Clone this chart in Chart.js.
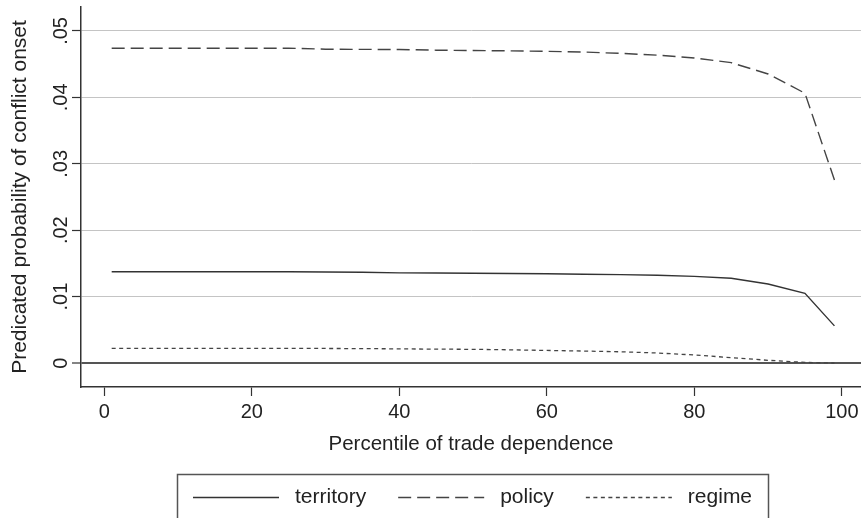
<!DOCTYPE html>
<html>
<head>
<meta charset="utf-8">
<script src="https://cdn.jsdelivr.net/npm/chart.js@4.4.1/dist/chart.umd.min.js"></script>
<style>
  body { margin: 0; background: #fff; }
  canvas { display: block; }
</style>
</head>
<body>
<canvas id="myChart" width="861" height="518"></canvas>
<script>
const percentiles = [1, 5, 10, 15, 20, 25, 30, 35, 40, 45, 50, 55, 60, 65, 70, 75, 80, 85, 90, 95, 99]
const territory = [.01375, .01375, .01375, .01375, .01375, .01375, .01372, .01368, .01358, .01355, .01352,
                   .01348, .01344, .01338, .01332, .01322, .01305, .01276, .0119, .0105, .0056]
const policy = [.0474, .0474, .0474, .0474, .0474, .0474, .04725, .04722, .0472, .0471, .04705,
                .047, .04692, .04682, .04662, .04635, .04592, .04522, .04352, .04062, .02756]
const regime = [.0022, .0022, .0022, .0022, .0022, .0022, .0022, .00218, .00214, .0021, .00207,
                .002, .0019, .00181, .0017, .00152, .00122, .00082, .00042, .0001, 0]

const seriesNames = ['territory', 'policy', 'regime']
const yTickValues = [0, .01, .02, .03, .04, .05]
const yTickLabels = ['0', '.01', '.02', '.03', '.04', '.05']
const xTickValues = [0, 20, 40, 60, 80, 100]

const fontFamily = "'Liberation Sans', Arial, Helvetica, sans-serif"
const textColor = '#222'
const axisColor = '#333'

function toPoints(values) {
  var pts = []
  for (var i = 0; i < percentiles.length; i++) {
    pts.push({ x: percentiles[i], y: values[i] })
  }
  return pts
}

// y tick labels are rotated in the original, Chart.js won't rotate them on a vertical axis
const rotatedYLabels = {
  id: 'rotatedYLabels',
  afterDraw(chart) {
    var ctx = chart.ctx
    var scale = chart.scales.y
    ctx.save()
    ctx.fillStyle = textColor
    ctx.font = '20px ' + fontFamily
    ctx.textAlign = 'center'
    ctx.textBaseline = 'middle'
    for (var i = 0; i < yTickValues.length; i++) {
      var py = scale.getPixelForValue(yTickValues[i])
      ctx.save()
      ctx.translate(61, py)
      ctx.rotate(-Math.PI / 2)
      ctx.fillText(yTickLabels[i], 0, 0)
      ctx.restore()
    }
    ctx.restore()
  }
}

// boxed legend under the plot, as in the Stata graph
const boxLegend = {
  id: 'boxLegend',
  afterDraw(chart) {
    var ctx = chart.ctx
    ctx.save()
    ctx.strokeStyle = '#555'
    ctx.lineWidth = 1.5
    ctx.strokeRect(177.5, 474.5, 591, 100)

    ctx.font = '21px ' + fontFamily
    ctx.textBaseline = 'middle'
    var x = 193
    var y = 497
    chart.data.datasets.forEach(function (ds) {
      ctx.strokeStyle = ds.borderColor
      ctx.lineWidth = ds.borderWidth
      ctx.setLineDash(ds.borderDash || [])
      ctx.beginPath()
      ctx.moveTo(x, y + 0.5)
      ctx.lineTo(x + 86, y + 0.5)
      ctx.stroke()
      ctx.setLineDash([])
      x += 86 + 16
      ctx.fillStyle = textColor
      ctx.fillText(ds.label, x, y)
      x += ctx.measureText(ds.label).width + 32
    })
    ctx.restore()
  }
}

var ctx = document.getElementById('myChart')

var chart = new Chart(ctx, {
  type: 'line',
  data: {
    datasets: [{
      label: seriesNames[0],
      data: toPoints(territory),
      borderColor: '#333',
      borderWidth: 1.4
    }, {
      label: seriesNames[1],
      data: toPoints(policy),
      borderColor: '#444',
      borderWidth: 1.4,
      borderDash: [13, 6]
    }, {
      label: seriesNames[2],
      data: toPoints(regime),
      borderColor: '#444',
      borderWidth: 1.3,
      borderDash: [4, 3.5]
    }]
  },
  options: {
    responsive: false,
    animation: false,
    elements: {
      point: { radius: 0 },
      line: { tension: 0, fill: false }
    },
    layout: {
      padding: { top: 7, bottom: 61, left: 0, right: 0 }
    },
    plugins: {
      legend: { display: false },
      tooltip: { enabled: false }
    },
    scales: {
      x: {
        type: 'linear',
        min: -3.16,
        max: 102.6,
        afterBuildTicks: function (scale) {
          scale.ticks = xTickValues.map(function (v) { return { value: v } })
        },
        afterFit: function (scale) {
          scale.height = 70
          scale.paddingLeft = 0
          scale.paddingRight = 0
        },
        border: { color: axisColor, width: 1.5 },
        grid: {
          drawOnChartArea: false,
          drawTicks: true,
          tickLength: 9,
          tickColor: axisColor,
          tickWidth: 1.2
        },
        ticks: {
          color: textColor,
          padding: 4,
          font: { size: 20, family: fontFamily }
        },
        title: {
          display: true,
          text: 'Percentile of trade dependence',
          color: textColor,
          padding: { top: 0, bottom: 0 },
          font: { size: 20.5, family: fontFamily }
        }
      },
      y: {
        type: 'linear',
        min: -0.0036,
        max: 0.0536,
        afterBuildTicks: function (scale) {
          scale.ticks = yTickValues.map(function (v) { return { value: v } })
        },
        afterFit: function (scale) {
          scale.width = 81
        },
        border: { color: axisColor, width: 1.5 },
        grid: {
          color: function (c) { return c.tick && c.tick.value === 0 ? '#555' : '#c4c4c4' },
          lineWidth: function (c) { return c.tick && c.tick.value === 0 ? 2 : 1 },
          drawTicks: true,
          tickLength: 9,
          tickColor: axisColor,
          tickWidth: 1.2
        },
        ticks: { display: false },
        title: {
          display: true,
          text: 'Predicated probability of conflict onset',
          color: textColor,
          padding: { top: 8, bottom: 0 },
          font: { size: 21, family: fontFamily }
        }
      }
    }
  },
  plugins: [rotatedYLabels, boxLegend]
})
</script>
</body>
</html>
